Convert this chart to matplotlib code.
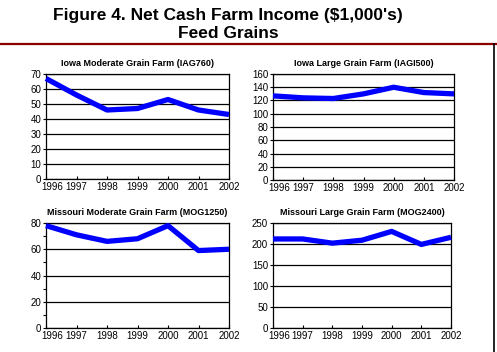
import matplotlib
matplotlib.use("Agg")
import matplotlib.pyplot as plt
from matplotlib.lines import Line2D
from matplotlib.ticker import MultipleLocator
from matplotlib.transforms import ScaledTranslation

plt.rcParams['font.family'] = ['Liberation Sans', 'DejaVu Sans']

years = [1996, 1997, 1998, 1999, 2000, 2001, 2002]
year_labels = ['1996', '1997', '1998', '1999', '2000', '2001', '2002']

iowa_mod = [67, 56, 46, 47, 53, 46, 43]
iowa_large = [127, 124, 123, 130, 140, 132, 130]
mo_mod = [78, 71, 66, 68, 78, 59, 60]
mo_large = [212, 212, 202, 209, 230, 199, 216]

titles = ['Iowa Moderate Grain Farm (IAG760)',
          'Iowa Large Grain Farm (IAGI500)',
          'Missouri Moderate Grain Farm (MOG1250)',
          'Missouri Large Grain Farm (MOG2400)']
series = [iowa_mod, iowa_large, mo_mod, mo_large]
ymaxs = [70, 160, 80, 250]
ysteps = [10, 20, 20, 50]
minor_steps = [None, None, 10, None]

positions = [
    [46/497, 1-179/352, 183/497, 105/352],
    [273/497, 1-180/352, 181/497, 106/352],
    [46/497, 1-328/352, 183/497, 105/352],
    [273/497, 1-328/352, 178/497, 105/352],
]

fig = plt.figure(figsize=(4.97, 3.52), dpi=100)
fig.patch.set_facecolor('white')

fig.text(0.459, 0.957, "Figure 4. Net Cash Farm Income ($1,000's)", ha='center', va='center',
         fontsize=12.5, fontweight='bold')
fig.text(0.459, 0.906, "Feed Grains", ha='center', va='center', fontsize=12.5, fontweight='bold')
fig.add_artist(Line2D([0, 1], [1-44/352, 1-44/352], color='#8B0000', lw=1.6, transform=fig.transFigure))
fig.add_artist(Line2D([494/497, 494/497], [0, 1-44/352], color='black', lw=1.2, transform=fig.transFigure))

for pos, vals, title, ymax, ystep, mstep in zip(positions, series, titles, ymaxs, ysteps, minor_steps):
    ax = fig.add_axes(pos)
    ax.plot(years, vals, color='#0000FF', lw=3.8, solid_capstyle='butt', zorder=3, clip_on=False)
    ax.set_xlim(1996, 2002)
    ax.set_ylim(0, ymax)
    ax.set_xticks(years)
    ax.set_xticklabels(year_labels)
    ax.yaxis.set_major_locator(MultipleLocator(ystep))
    if mstep:
        ax.yaxis.set_minor_locator(MultipleLocator(mstep))
        ax.tick_params(axis='y', which='minor', length=2, width=0.8, direction='out')
    ax.grid(axis='y', color='black', lw=0.9)
    ax.set_axisbelow(True)
    for s in ax.spines.values():
        s.set_color('black')
        s.set_linewidth(0.9)
    ax.tick_params(axis='both', labelsize=7, length=2.5, width=0.8, pad=1, colors='black')
    ax.tick_params(axis='x', direction='in', length=2, pad=2)
    ax.set_title(title, fontsize=6.5, fontweight='bold', pad=6)
    first = ax.get_xticklabels()[0]
    first.set_transform(first.get_transform() + ScaledTranslation(6/100, 0, fig.dpi_scale_trans))

fig.savefig('out.png', dpi=100, facecolor='white')
